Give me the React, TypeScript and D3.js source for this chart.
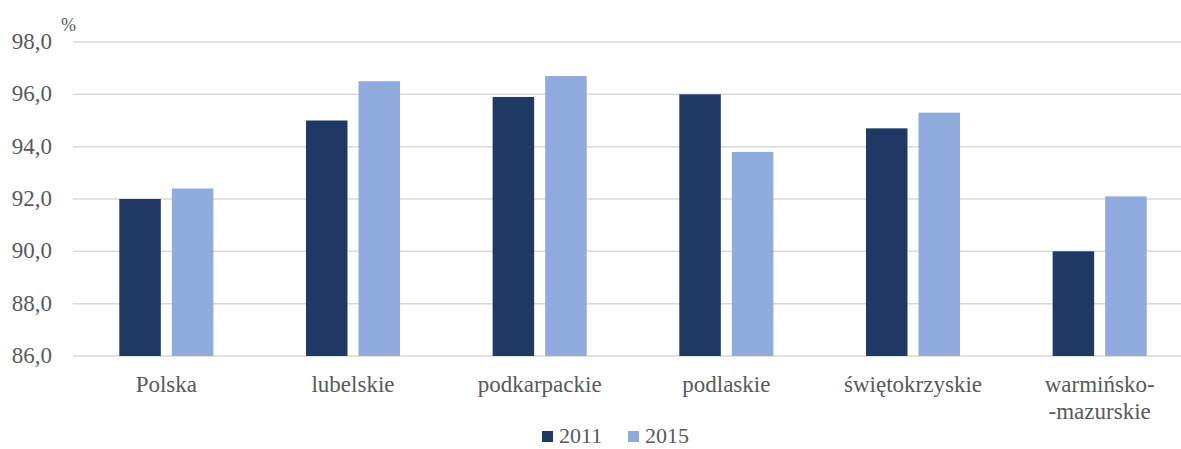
import React, { useEffect, useRef } from 'react';
import * as d3 from 'd3';

const categories = ['Polska', 'lubelskie', 'podkarpackie', 'podlaskie', 'świętokrzyskie', 'warmińsko-\n-mazurskie'];
const series = ['2011', '2015'];
const values2011 = [92.0, 95.0, 95.9, 96.0, 94.7, 90.0];
const values2015 = [92.4, 96.5, 96.7, 93.8, 95.3, 92.1];
const yTicks = [86, 88, 90, 92, 94, 96, 98];

const colors = ['#203864', '#8FAADC'];

export default function App() {
  const svgRef = useRef<SVGSVGElement>(null);

  useEffect(() => {
    if (!svgRef.current) return;
    const svg = d3.select(svgRef.current);
    svg.selectAll('*').remove();

    const font = '"Liberation Serif", "Times New Roman", serif';
    const textColor = '#595959';

    const x = d3.scaleBand<string>().domain(categories).range([73, 1193]).paddingInner(0).paddingOuter(0);
    const x1 = d3
      .scaleBand<string>()
      .domain(series)
      .range([46.3, x.bandwidth() - 46.3])
      .paddingInner(0.21);
    const y = d3.scaleLinear().domain([86, 98]).range([356, 42]);

    // gridlines
    svg
      .append('g')
      .selectAll('line')
      .data(yTicks)
      .enter()
      .append('line')
      .attr('x1', 73)
      .attr('x2', 1193)
      .attr('y1', (d) => y(d))
      .attr('y2', (d) => y(d))
      .attr('stroke', '#D9D9D9')
      .attr('stroke-width', 1.5);

    // y labels
    svg
      .append('g')
      .selectAll('text')
      .data(yTicks)
      .enter()
      .append('text')
      .attr('x', 52)
      .attr('y', (d) => y(d) + 7)
      .attr('text-anchor', 'end')
      .attr('font-family', font)
      .attr('font-size', 23)
      .attr('fill', textColor)
      .text((d) => d.toFixed(1).replace('.', ','));

    svg
      .append('text')
      .attr('x', 61)
      .attr('y', 31)
      .attr('font-family', font)
      .attr('font-size', 18)
      .attr('fill', textColor)
      .text('%');

    // bars
    const allSeries = [values2011, values2015];
    allSeries.forEach((vals, si) => {
      svg
        .append('g')
        .selectAll('rect')
        .data(vals)
        .enter()
        .append('rect')
        .attr('x', (_d, i) => (x(categories[i]) ?? 0) + (x1(series[si]) ?? 0))
        .attr('y', (d) => y(d))
        .attr('width', x1.bandwidth())
        .attr('height', (d) => y(86) - y(d))
        .attr('fill', colors[si]);
    });

    // category labels
    const cat = svg
      .append('g')
      .selectAll('text')
      .data(categories)
      .enter()
      .append('text')
      .attr('text-anchor', 'middle')
      .attr('font-family', font)
      .attr('font-size', 23)
      .attr('fill', textColor);
    cat.each(function (d) {
      const lines = d.split('\n');
      const t = d3.select(this);
      lines.forEach((ln, li) => {
        t.append('tspan')
          .attr('x', (x(d) ?? 0) + x.bandwidth() / 2)
          .attr('y', 392 + li * 27)
          .text(ln);
      });
    });

    // legend
    const legendX = [542, 628];
    series.forEach((s, i) => {
      svg
        .append('rect')
        .attr('x', legendX[i])
        .attr('y', 431)
        .attr('width', 11)
        .attr('height', 11)
        .attr('fill', colors[i]);
      svg
        .append('text')
        .attr('x', legendX[i] + 17)
        .attr('y', 443)
        .attr('font-family', font)
        .attr('font-size', 22)
        .attr('fill', textColor)
        .text(s);
    });
  }, []);

  return (
    <div style={{ position: 'absolute', left: 0, top: 0 }}>
      <svg ref={svgRef} width={1181} height={449} style={{ display: 'block' }}></svg>
    </div>
  );
}
